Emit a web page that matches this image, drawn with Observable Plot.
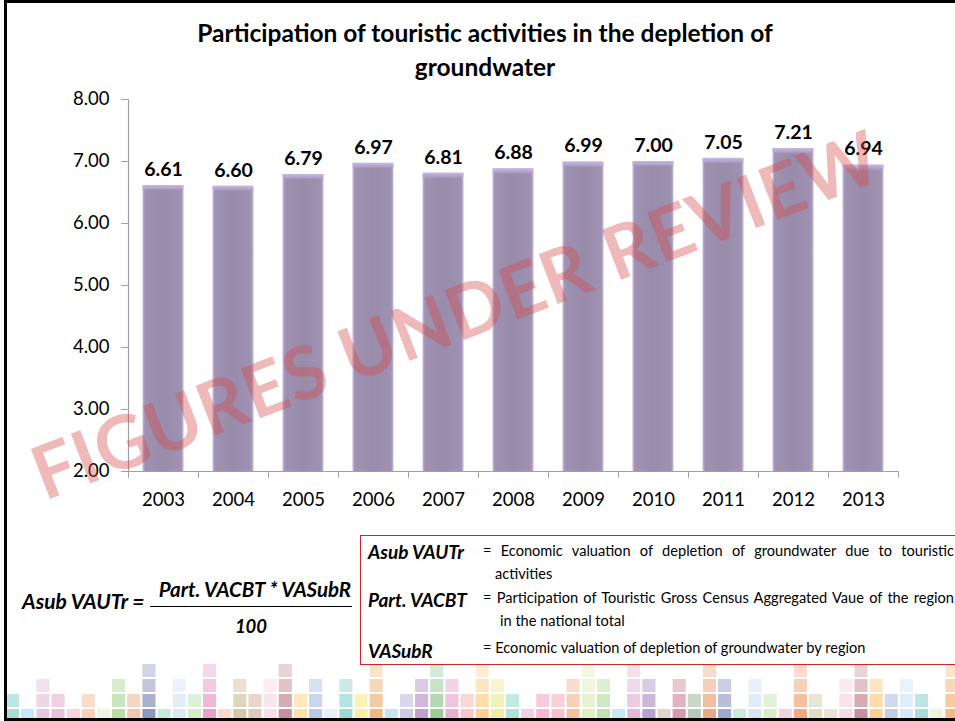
<!DOCTYPE html>
<html>
<head>
<meta charset="utf-8">
<script src="https://cdn.jsdelivr.net/npm/d3@7"></script>
<script src="https://cdn.jsdelivr.net/npm/@observablehq/plot@0.6"></script>
<style>
  html, body { margin: 0; padding: 0; background: #fff; }
  #page { position: relative; width: 955px; height: 721px; overflow: hidden; background: #fff; font-family: Lato, "Open Sans", sans-serif; }
  #frame { position: absolute; left: 4px; top: 0; width: 1000px; height: 721px; box-sizing: border-box; border: 3px solid #000; }
  .abs { position: absolute; white-space: nowrap; }
  #title { left: 15px; top: 16px; width: 940px; text-align: center; font-weight: bold; font-size: 24.5px; line-height: 34px; color: #000; }
  #watermark { left: 455px; top: 313px; transform: translate(-50%, -50%) rotate(-21deg); font-weight: bold; font-size: 74px; color: rgba(216, 70, 70, 0.38); letter-spacing: 1px; pointer-events: none; }
  .bi { font-weight: bold; font-style: italic; }
  #box { position: absolute; left: 360px; top: 535px; width: 700px; height: 130px; box-sizing: border-box; border: 1.5px solid #c8282a; }
  .desc { font-size: 14.6px; line-height: 20px; color: #000; }
  .just { text-align: justify; text-align-last: justify; }
</style>
</head>
<body>
<div id="page">
  <div id="mosaic" class="abs" style="left:0;top:663px;"></div>
  <div id="chart" class="abs" style="left:0;top:0;"></div>
  <div id="title" class="abs">Participation of touristic activities in the depletion of<br>groundwater</div>

  <div class="abs bi" style="left:22px;top:588px;font-size:21px;line-height:26px;">Asub VAUTr =</div>
  <div class="abs bi" style="left:150px;top:576px;width:210px;text-align:center;font-size:20.5px;line-height:26px;">Part. VACBT * VASubR</div>
  <div class="abs" style="left:150px;top:606px;width:202px;height:0;border-top:1.5px solid #000;"></div>
  <div class="abs bi" style="left:150px;top:613px;width:202px;text-align:center;font-size:18.5px;line-height:26px;">100</div>

  <div id="box"></div>
  <div class="abs bi" style="left:368px;top:540px;font-size:19px;line-height:24px;">Asub VAUTr</div>
  <div class="abs desc just" style="left:483px;top:541px;width:471px;white-space:normal;">= Economic valuation of depletion of groundwater due to touristic</div>
  <div class="abs desc" style="left:495px;top:564px;">activities</div>
  <div class="abs bi" style="left:368px;top:588px;font-size:19px;line-height:24px;">Part. VACBT</div>
  <div class="abs desc just" style="left:483px;top:588px;width:471px;white-space:normal;">= Participation of Touristic Gross Census Aggregated Vaue of the region</div>
  <div class="abs desc" style="left:500px;top:611px;">in the national total</div>
  <div class="abs bi" style="left:368px;top:639px;font-size:19px;line-height:24px;">VASubR</div>
  <div class="abs desc" style="left:483px;top:638px;">= Economic valuation of depletion of groundwater by region</div>

  <div id="watermark" class="abs">FIGURES UNDER REVIEW</div>
  <div id="frame"></div>
</div>
<script>
// ---- Data ----
const years = [2003, 2004, 2005, 2006, 2007, 2008, 2009, 2010, 2011, 2012, 2013];
const values = [6.61, 6.60, 6.79, 6.97, 6.81, 6.88, 6.99, 7.00, 7.05, 7.21, 6.94];
const yTicks = [2, 3, 4, 5, 6, 7, 8];

// decorative mosaic strip at the bottom: column heights (cells) and base colours
const mosaicHeights = [2,1,3,2,1,2,1,3,2,4,1,3,2,4,1,3,2,3,4,2,3,1,3,2,4,1,2,3,4,3,2,4,3,2,1,2,2,3,4,3,1,4,3,1,3,2,4,3,1,3,2,1,4,2,1,3,4,3,2,3,2,1,4];
const mosaicColors = ["#a8dcd8","#c5e8f3","#e5c8e0","#e9c0dc","#f8d5dc","#f8d0b8","#eef3e0","#b8dca8","#f0c8b0","#8f96c0",
  "#c8ead8","#dce6f5","#d0ecc8","#e8a0c8","#f8d8d0","#d4c8a8","#e0c8b8","#f8dce6","#c89098","#fde0a8",
  "#b8c8e8","#e6eefa","#9dd8d4","#f8eea0","#f0b880","#c8e4f0","#d0c8e4","#c0a0cc","#98cc98","#eab0d0",
  "#f8c8c8","#fdd090","#eeeea0","#b0e0d8","#f0d0e4","#f4b8d0","#f8c0c8","#f4c0a0","#e0eec0","#c0e0b0",
  "#c8e8f4","#e4b8d8","#b8a0d0","#e0d4c8","#d898a8","#b8c8b8","#eca880","#a0a8d0","#c8ecd8","#d8e4f4",
  "#d8ecc8","#f4d0e4","#f4a880","#e0dcc8","#ece0d8","#f4d8e4","#c89098","#fcd090","#c0cce8","#d4e8f8",
  "#a8dcd8","#eef4d8","#f4b880"];
const rowOpacity = [1, 0.75, 0.55, 0.4];

// ---- Chart ----
const data = years.map((year, i) => ({year, value: values[i]}));
const yMin = yTicks[0];
const halfStep = (years[1] - years[0]) / 2;
const bounds = [...years.map(y => y - halfStep), years[years.length - 1] + halfStep];
const barHalf = 0.293;
const axisGray = "#a0a0a0";

const chart = Plot.plot({
  width: 955,
  height: 521,
  marginLeft: 128,
  marginRight: 57,
  marginTop: 99,
  marginBottom: 50,
  style: {fontFamily: "Lato, 'Open Sans', sans-serif", color: "#000", background: "transparent", overflow: "visible"},
  x: {domain: [bounds[0], bounds[bounds.length - 1]]},
  y: {domain: [yTicks[0], yTicks[yTicks.length - 1]]},
  marks: [
    Plot.rect(data, {x1: d => d.year - barHalf, x2: d => d.year + barHalf, y1: () => yMin, y2: "value", fill: "url(#barGrad)"}),
    Plot.rect(data, {x1: d => d.year - barHalf, x2: d => d.year + barHalf, y1: () => yMin, y2: "value", fill: "url(#topGrad)"}),
    Plot.ruleX([bounds[0]], {stroke: axisGray, strokeWidth: 1.2}),
    Plot.ruleY([yMin], {stroke: axisGray, strokeWidth: 1.2}),
    Plot.axisY({ticks: yTicks, tickFormat: d => d.toFixed(2), tickSize: 7, tickPadding: 12, stroke: axisGray, fill: "#000", fontSize: 18.5, label: null}),
    Plot.axisX({ticks: bounds, tickFormat: () => "", tickSize: 7, stroke: axisGray, label: null}),
    Plot.axisX({ticks: years, tickFormat: d => String(d), tickSize: 0, tickPadding: 21, fill: "#000", fontSize: 18.5, label: null}),
    Plot.text(data, {x: "year", y: "value", text: d => d.value.toFixed(2), dy: -16, fontWeight: "bold", fontSize: 19.5, fill: "#000"})
  ]
});

const defs = d3.select(chart).insert("defs", ":first-child");
const g1 = defs.append("linearGradient").attr("id", "barGrad").attr("x1", 0).attr("x2", 1).attr("y1", 0).attr("y2", 0);
[[0, "#c9bce0"], [0.06, "#9e91b1"], [0.5, "#998cab"], [0.94, "#9e91b1"], [1, "#c9bce0"]].forEach(([o, c]) =>
  g1.append("stop").attr("offset", o).attr("stop-color", c));
const g2 = defs.append("linearGradient").attr("id", "topGrad").attr("x1", 0).attr("x2", 0).attr("y1", 0).attr("y2", 1);
[[0, "#cbbde6", 0.9], [0.012, "#b9aad6", 0.7], [0.018, "#b9aad6", 0]].forEach(([o, c, op]) =>
  g2.append("stop").attr("offset", o).attr("stop-color", c).attr("stop-opacity", op));
document.getElementById("chart").appendChild(chart);

// ---- Mosaic ----
const cells = [];
mosaicHeights.forEach((h, col) => {
  for (let row = 0; row < h; row++) cells.push({col, row, color: mosaicColors[col], op: rowOpacity[row]});
});
const mosaic = Plot.plot({
  width: 955,
  height: 60,
  margin: 0,
  style: {background: "transparent"},
  x: {domain: [0, mosaicHeights.length], range: [5, 5 + mosaicHeights.length * 15.15], axis: null},
  y: {domain: [0, 4], range: [60, 0], axis: null},
  color: {type: "identity"},
  opacity: {type: "identity"},
  marks: [
    Plot.rect(cells, {x1: "col", x2: d => d.col + 1, y1: d => d.row, y2: d => d.row + 1, fill: "color", fillOpacity: "op", inset: 1})
  ]
});
document.getElementById("mosaic").appendChild(mosaic);
</script>
</body>
</html>
